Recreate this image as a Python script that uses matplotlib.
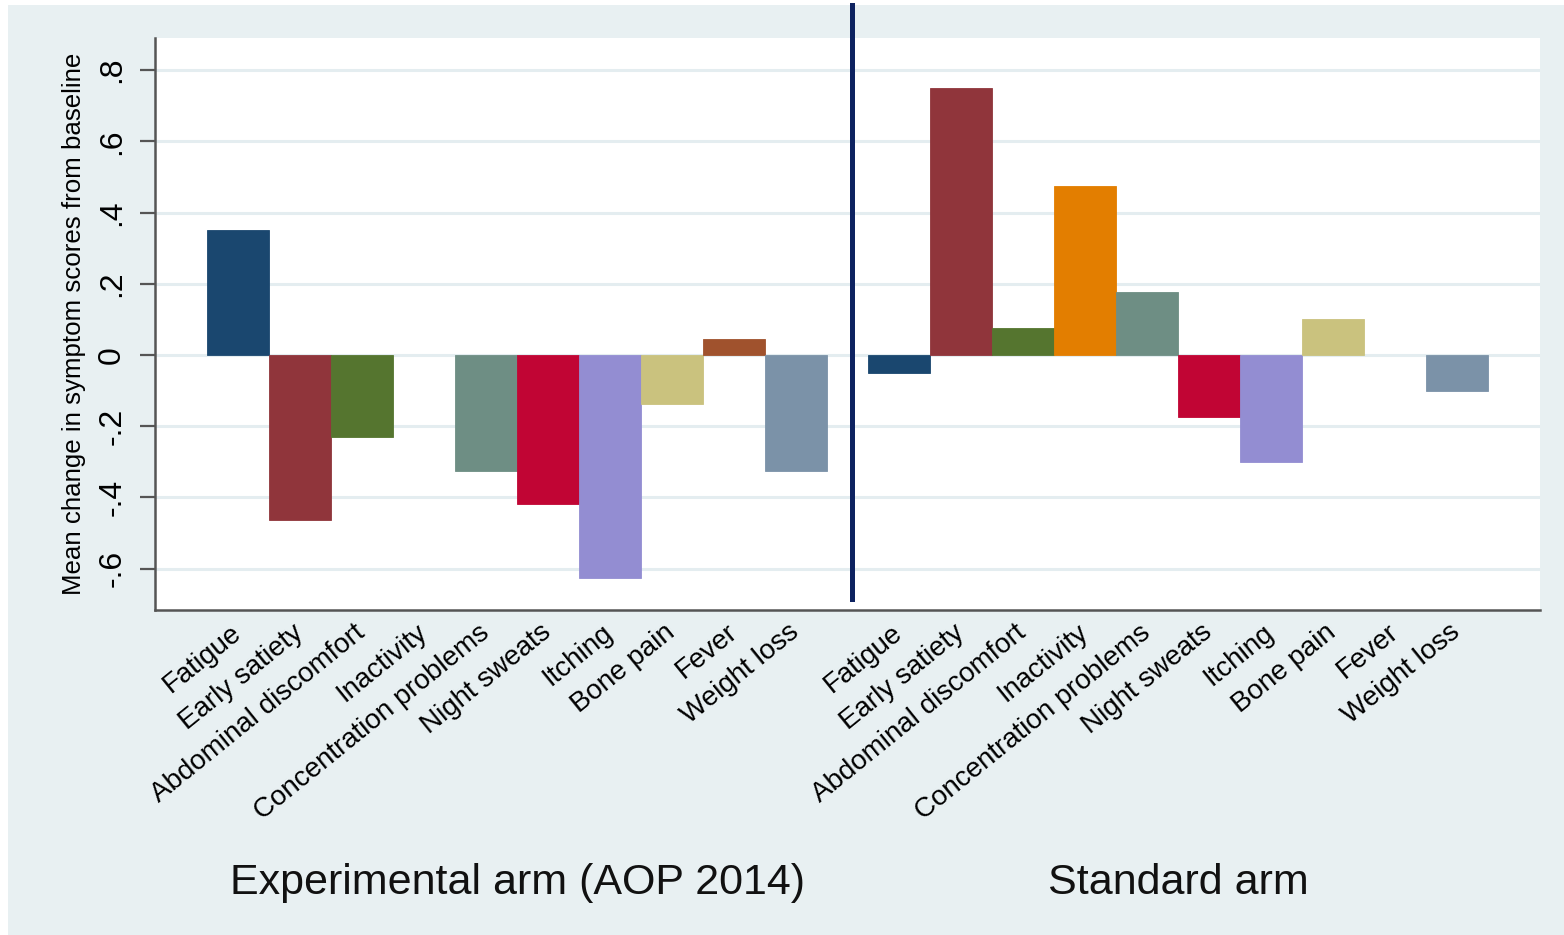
import numpy as np
import matplotlib
matplotlib.use('Agg')
import matplotlib.pyplot as plt
from matplotlib.patches import Rectangle

plt.rcParams['font.family'] = ['Liberation Sans', 'DejaVu Sans']

symptoms = ['Fatigue', 'Early satiety', 'Abdominal discomfort', 'Inactivity',
            'Concentration problems', 'Night sweats', 'Itching', 'Bone pain',
            'Fever', 'Weight loss']
exp_vals = [0.35, -0.463, -0.231, np.nan, -0.325, -0.418, -0.626, -0.138, 0.045, -0.325]
std_vals = [-0.051, 0.749, 0.077, 0.475, 0.176, -0.174, -0.300, 0.101, np.nan, -0.100]
arms = ['Experimental arm (AOP 2014)', 'Standard arm']
yticks = [-0.6, -0.4, -0.2, 0, 0.2, 0.4, 0.6, 0.8]
ytick_labels = ['-.6', '-.4', '-.2', '0', '.2', '.4', '.6', '.8']
colors = ['#1A476F', '#90353B', '#55752F', '#E37E00', '#6E8E84',
          '#C10534', '#938DD2', '#CAC27E', '#A0522D', '#7B92A8']

bg = '#E8F0F2'
grid_c = '#E4EDF0'
group_shift = 10.66

fig = plt.figure(figsize=(15.64, 9.35), dpi=100)
fig.patch.set_facecolor('white')
fig.patches.append(Rectangle((8/1564, 0), 1 - 8/1564, 1 - 5/935, transform=fig.transFigure,
                             facecolor=bg, edgecolor='none', zorder=-10))
ax = fig.add_axes([155/1564, 1 - 610/935, (1540-155)/1564, (610-38)/935])
ax.set_facecolor('white')

xpos, xlab = [], []
for g, vals in enumerate([exp_vals, std_vals]):
    pos = np.arange(len(symptoms)) + g*group_shift
    for p, v, c, s in zip(pos, vals, colors, symptoms):
        if not np.isnan(v):
            ax.bar(p, v, width=1.0, color=c, edgecolor=c, linewidth=0.6, zorder=3)
        xpos.append(p)
        xlab.append(s)
    # arm name under each group
    ax.text(pos.mean(), -0.477, arms[g], transform=ax.get_xaxis_transform(),
            ha='center', va='center', fontsize=31, color='#111111')

ax.set_xlim(-1.339, 21.0)
ax.set_ylim(-0.716, 0.89)
ax.set_yticks(yticks)
ax.set_yticklabels(ytick_labels, rotation=90, va='center', fontsize=23)
ax.set_xticks(xpos)
ax.set_xticklabels(xlab, rotation=39, ha='right', va='center', rotation_mode='anchor', fontsize=20)
ax.tick_params(axis='x', length=0, pad=14)
ax.tick_params(axis='y', length=11, width=1.6, color='#555555', pad=9)
ax.grid(axis='y', color=grid_c, linewidth=2.2, zorder=0)
ax.set_axisbelow(True)

for side in ['top', 'right']:
    ax.spines[side].set_visible(False)
for side in ['left', 'bottom']:
    ax.spines[side].set_color('#555555')
    ax.spines[side].set_linewidth(1.8)

ax.set_ylabel('Mean change in symptom scores from baseline', fontsize=18.6, labelpad=8)

# divider between the two arms
ax.axvline((9 + group_shift) / 2 + 0.08, ymin=0.019, ymax=1.058, color='#0D2260',
           linewidth=3.6, clip_on=False, zorder=4)

plt.savefig('out.png', dpi=100, facecolor=fig.get_facecolor())
